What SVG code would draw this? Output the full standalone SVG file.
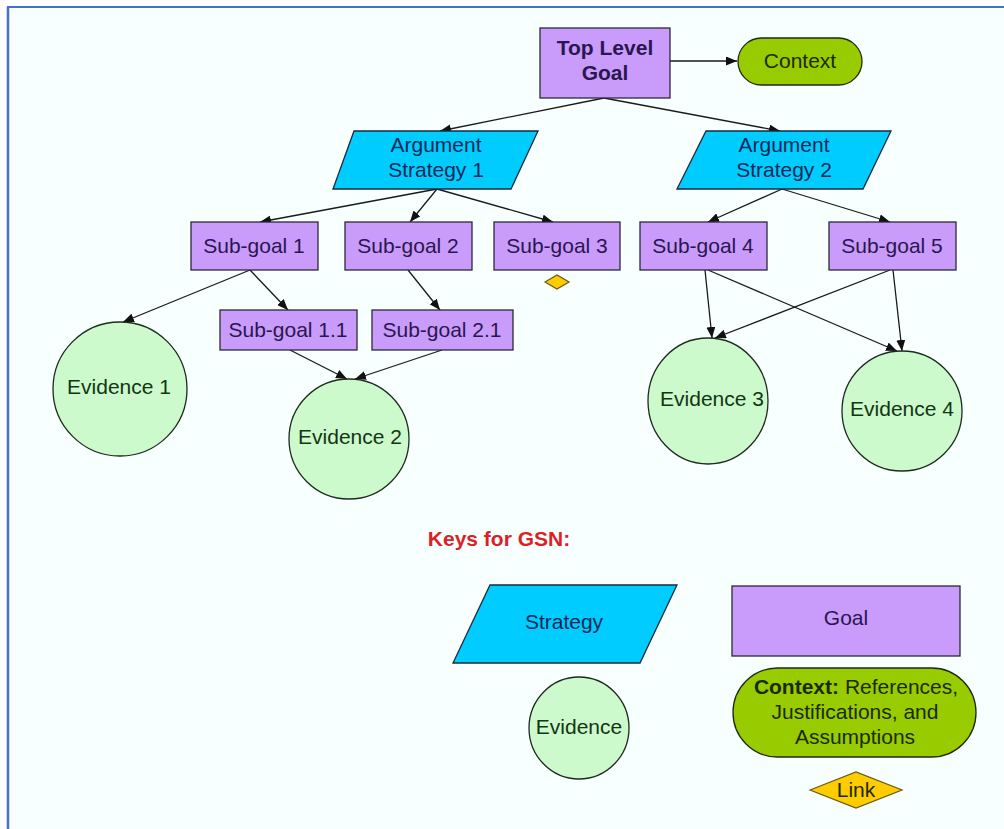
<svg xmlns="http://www.w3.org/2000/svg" width="1004" height="829" viewBox="0 0 1004 829">
  <defs>
    <marker id="arrow" viewBox="0 0 11 9" refX="11" refY="4.5" markerWidth="11" markerHeight="9" markerUnits="userSpaceOnUse" orient="auto">
      <path d="M0,0 L11,4.5 L0,9 Z" fill="#111"/>
    </marker>
    <style>
      text { font-family: "Liberation Sans", Arial, sans-serif; font-size: 21px; text-anchor: middle; }
      .goal { fill: #C99BFA; stroke: #2a2a3a; stroke-width: 1.3; }
      .goal-t { fill: #2A1650; }
      .strat { fill: #00CCFF; stroke: #1a2a3a; stroke-width: 1.3; }
      .strat-t { fill: #0A2A55; }
      .evid { fill: #CCFACC; stroke: #1e2a1e; stroke-width: 1.3; }
      .evid-t { fill: #123512; }
      .ctx { fill: #99CC00; stroke: #1e2a10; stroke-width: 1.3; }
      .ctx-t { fill: #1A2A05; }
      .link { fill: #FFCC00; stroke: #6a5a10; stroke-width: 1.2; }
      .edge { stroke: #1a1a1a; stroke-width: 1.3; fill: none; marker-end: url(#arrow); }
    </style>
  </defs>

  <!-- page background and frame -->
  <rect x="0" y="0" width="1004" height="829" fill="#ffffff"/>
  <rect x="8" y="8" width="996" height="821" fill="#F7FFFF"/>
  <line x1="7" y1="7" x2="1004" y2="7" stroke="#4472C4" stroke-width="2"/>
  <line x1="8" y1="7" x2="8" y2="829" stroke="#4472C4" stroke-width="2.5"/>

  <!-- connectors -->
  <g id="connectors">
    <line class="edge" x1="669" y1="61" x2="737" y2="61"/>
    <line class="edge" x1="604" y1="98" x2="440" y2="131"/>
    <line class="edge" x1="604" y1="98" x2="780" y2="131"/>
    <line class="edge" x1="437" y1="189" x2="260" y2="222"/>
    <line class="edge" x1="437" y1="189" x2="410" y2="222"/>
    <line class="edge" x1="437" y1="189" x2="553" y2="222"/>
    <line class="edge" x1="782" y1="189" x2="708" y2="222"/>
    <line class="edge" x1="782" y1="189" x2="890" y2="222"/>
    <line class="edge" x1="250" y1="270" x2="123" y2="322"/>
    <line class="edge" x1="250" y1="270" x2="288" y2="310"/>
    <line class="edge" x1="408" y1="270" x2="440" y2="310"/>
    <line class="edge" x1="290" y1="350" x2="347" y2="379"/>
    <line class="edge" x1="442" y1="350" x2="355" y2="379"/>
    <line class="edge" x1="705" y1="270" x2="712" y2="338"/>
    <line class="edge" x1="708" y1="270" x2="897" y2="351"/>
    <line class="edge" x1="890" y1="270" x2="715" y2="338"/>
    <line class="edge" x1="893" y1="270" x2="902" y2="351"/>
  </g>

  <!-- goals -->
  <g id="top-goal">
    <rect class="goal" x="540" y="28" width="130" height="70"/>
    <text class="goal-t" x="605" y="55" font-weight="bold">Top Level</text>
    <text class="goal-t" x="605" y="80" font-weight="bold">Goal</text>
  </g>
  <g id="context">
    <rect class="ctx" x="738" y="38" width="124" height="47" rx="23.5"/>
    <text class="ctx-t" x="800" y="68">Context</text>
  </g>

  <!-- strategies -->
  <g id="strategy-1">
    <polygon class="strat" points="354,131 538,131 511,189 333,189"/>
    <text class="strat-t" x="436" y="152">Argument</text>
    <text class="strat-t" x="436" y="177">Strategy 1</text>
  </g>
  <g id="strategy-2">
    <polygon class="strat" points="706,131 891,131 863,189 677,189"/>
    <text class="strat-t" x="784" y="152">Argument</text>
    <text class="strat-t" x="784" y="177">Strategy 2</text>
  </g>

  <!-- sub-goals -->
  <g id="sub-goal-1">
    <rect class="goal" x="191" y="222" width="127" height="48"/>
    <text class="goal-t" x="254" y="253">Sub-goal 1</text>
  </g>
  <g id="sub-goal-2">
    <rect class="goal" x="345" y="222" width="127" height="48"/>
    <text class="goal-t" x="408" y="253">Sub-goal 2</text>
  </g>
  <g id="sub-goal-3">
    <rect class="goal" x="494" y="222" width="126" height="48"/>
    <text class="goal-t" x="557" y="253">Sub-goal 3</text>
    <polygon class="link" points="545,282 557,275 569,282 557,289"/>
  </g>
  <g id="sub-goal-4">
    <rect class="goal" x="640" y="222" width="127" height="48"/>
    <text class="goal-t" x="703" y="253">Sub-goal 4</text>
  </g>
  <g id="sub-goal-5">
    <rect class="goal" x="829" y="222" width="127" height="48"/>
    <text class="goal-t" x="892" y="253">Sub-goal 5</text>
  </g>
  <g id="sub-goal-1-1">
    <rect class="goal" x="220" y="310" width="137" height="40"/>
    <text class="goal-t" x="288" y="337">Sub-goal 1.1</text>
  </g>
  <g id="sub-goal-2-1">
    <rect class="goal" x="372" y="310" width="141" height="40"/>
    <text class="goal-t" x="442" y="337">Sub-goal 2.1</text>
  </g>

  <!-- evidence -->
  <g id="evidence-1">
    <ellipse class="evid" cx="120" cy="389" rx="67" ry="67"/>
    <text class="evid-t" x="119" y="394">Evidence 1</text>
  </g>
  <g id="evidence-2">
    <ellipse class="evid" cx="349" cy="439" rx="60" ry="60"/>
    <text class="evid-t" x="350" y="444">Evidence 2</text>
  </g>
  <g id="evidence-3">
    <ellipse class="evid" cx="708" cy="401" rx="60" ry="63"/>
    <text class="evid-t" x="712" y="406">Evidence 3</text>
  </g>
  <g id="evidence-4">
    <ellipse class="evid" cx="902" cy="411" rx="60" ry="60"/>
    <text class="evid-t" x="902" y="416">Evidence 4</text>
  </g>

  <!-- key -->
  <g id="key-title">
    <text x="499" y="546" font-weight="bold" fill="#DD1F26" font-size="17.5">Keys for GSN:</text>
  </g>
  <g id="key-strategy">
    <polygon class="strat" points="490,585 677,585 640,663 453,663"/>
    <text class="strat-t" x="564" y="629">Strategy</text>
  </g>
  <g id="key-goal">
    <rect class="goal" x="732" y="586" width="228" height="70"/>
    <text class="goal-t" x="846" y="625">Goal</text>
  </g>
  <g id="key-evidence">
    <ellipse class="evid" cx="579" cy="728" rx="50" ry="51"/>
    <text class="evid-t" x="579" y="734">Evidence</text>
  </g>
  <g id="key-context">
    <rect class="ctx" x="733" y="668" width="243" height="89" rx="44.5"/>
    <text class="ctx-t" x="856" y="694" font-size="21.5"><tspan font-weight="bold">Context:</tspan> References,</text>
    <text class="ctx-t" x="855" y="719" font-size="21.5">Justifications, and</text>
    <text class="ctx-t" x="855" y="744" font-size="21.5">Assumptions</text>
  </g>
  <g id="key-link">
    <polygon class="link" points="810,790 856,772 902,790 856,808"/>
    <text class="ctx-t" x="856" y="797">Link</text>
  </g>
</svg>
